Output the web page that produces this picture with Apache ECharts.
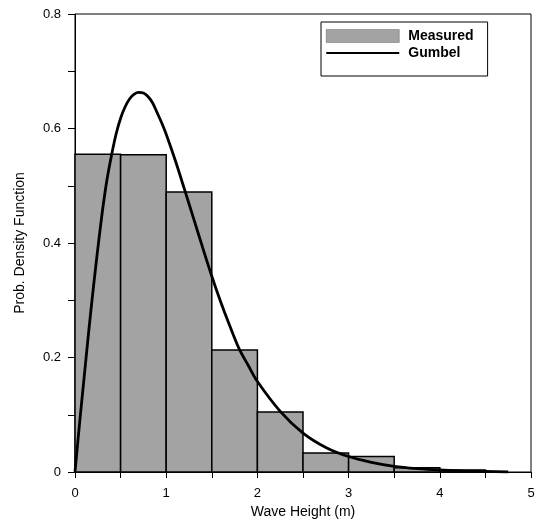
<!DOCTYPE html>
<html>
<head>
<meta charset="utf-8">
<script src="https://cdn.jsdelivr.net/npm/echarts@6/dist/echarts.min.js"></script>
<style>html,body{margin:0;padding:0;background:#fff}#c{width:539px;height:528px}</style>
</head>
<body>
<div id="c"></div>
<script>
// Histogram bins (wave height, m) and measured densities
const binEdges = [0, 0.5, 1, 1.5, 2, 2.5, 3, 3.5, 4, 4.5];
const measured = [0.555, 0.554, 0.489, 0.213, 0.105, 0.033, 0.027, 0.0075, 0.0035];

// Gumbel fit curve
const curveX = [0, 0.05, 0.1, 0.15, 0.2, 0.25, 0.3, 0.35, 0.4, 0.45, 0.5, 0.55, 0.6, 0.65, 0.7, 0.75, 0.8, 0.85, 0.9, 0.95, 1.0, 1.1, 1.2, 1.3, 1.4, 1.5, 1.6, 1.7, 1.8, 1.9, 2.0, 2.25, 2.5, 2.75, 3.0, 3.25, 3.5, 3.75, 4.0, 4.25, 4.5, 4.75];
const curveY = [0, 0.085, 0.165, 0.245, 0.32, 0.39, 0.455, 0.51, 0.553, 0.59, 0.618, 0.638, 0.652, 0.66, 0.663, 0.662, 0.656, 0.645, 0.628, 0.61, 0.59, 0.544, 0.494, 0.443, 0.392, 0.342, 0.296, 0.254, 0.215, 0.186, 0.158, 0.106, 0.068, 0.043, 0.027, 0.017, 0.010, 0.006, 0.0035, 0.002, 0.001, 0.0];

const yTicks = ['0', '0.2', '0.4', '0.6', '0.8'];
const xTicks = ['0', '1', '2', '3', '4', '5'];

const FONT = 'Liberation Sans, Arial, sans-serif';
const barData = measured.map((h, i) => [binEdges[i], binEdges[i + 1], h]);
const lineData = curveX.map((x, i) => [x, curveY[i]]);
const lineIcon = 'path://M0,0 L0.01,0 L0.01,0.01 Z M0,5.25 L100,5.25 L100,7.75 L0,7.75 Z M0,13 L0.01,13 L0.01,12.99 Z';

const chart = echarts.init(document.getElementById('c'), null, {renderer: 'canvas'});
chart.setOption({
  animation: false,
  backgroundColor: '#fff',
  grid: {left: 75, right: 8, top: 14, bottom: 56, show: true, borderColor: '#000', borderWidth: 1, backgroundColor: 'transparent'},
  legend: {
    left: 321, top: 22, orient: 'vertical',
    itemWidth: 73, itemHeight: 13, itemGap: 3,
    padding: [7, 14, 16, 5],
    borderColor: '#000', borderWidth: 1, backgroundColor: '#fff',
    textStyle: {fontFamily: FONT, fontSize: 14, fontWeight: 'bold', color: '#000', padding: [0, 0, 0, 4]},
    data: [
      {name: 'Measured', icon: 'rect', itemStyle: {color: '#a3a3a3', borderColor: '#666', borderWidth: 0.5}},
      {name: 'Gumbel', icon: lineIcon, itemStyle: {color: '#000', borderWidth: 0}}
    ]
  },
  xAxis: {
    type: 'value', min: 0, max: 5, interval: 0.5,
    name: 'Wave Height (m)', nameLocation: 'middle', nameGap: 29,
    nameTextStyle: {fontFamily: FONT, fontSize: 14, color: '#000'},
    axisLine: {show: true, onZero: false, lineStyle: {color: '#000', width: 1}},
    axisTick: {show: true, inside: false, length: 6, lineStyle: {color: '#000'}},
    splitLine: {show: false},
    axisLabel: {
      margin: 15, fontFamily: FONT, fontSize: 13, color: '#000',
      formatter: v => (Math.abs(v - Math.round(v)) < 1e-6 ? xTicks[Math.round(v)] : '')
    }
  },
  yAxis: {
    type: 'value', min: 0, max: 0.8, interval: 0.1,
    name: 'Prob. Density Function', nameLocation: 'middle', nameGap: 48,
    nameTextStyle: {fontFamily: FONT, fontSize: 14, color: '#000'},
    axisLine: {show: true, onZero: false, lineStyle: {color: '#000', width: 1}},
    axisTick: {show: true, inside: false, length: 7, lineStyle: {color: '#000'}},
    splitLine: {show: false},
    axisLabel: {
      margin: 14, fontFamily: FONT, fontSize: 13, color: '#000',
      formatter: v => { const k = Math.round(v * 10); return k % 2 === 0 ? yTicks[k / 2] : ''; }
    }
  },
  series: [
    {
      name: 'Measured', type: 'custom', z: 2,
      itemStyle: {color: '#a3a3a3'},
      encode: {x: [0, 1], y: 2},
      renderItem: function (params, api) {
        const x0 = api.value(0), x1 = api.value(1), h = api.value(2);
        const p0 = api.coord([x0, h]);
        const p1 = api.coord([x1, 0]);
        return {
          type: 'rect',
          shape: {x: p0[0], y: p0[1], width: p1[0] - p0[0], height: p1[1] - p0[1]},
          style: {fill: '#a3a3a3', stroke: '#000', lineWidth: 1.5}
        };
      },
      data: barData
    },
    {
      name: 'Gumbel', type: 'line', z: 3, smooth: 0.3, symbol: 'none',
      lineStyle: {color: '#000', width: 2.8},
      itemStyle: {color: '#000'},
      data: lineData
    }
  ]
});
</script>
</body>
</html>
